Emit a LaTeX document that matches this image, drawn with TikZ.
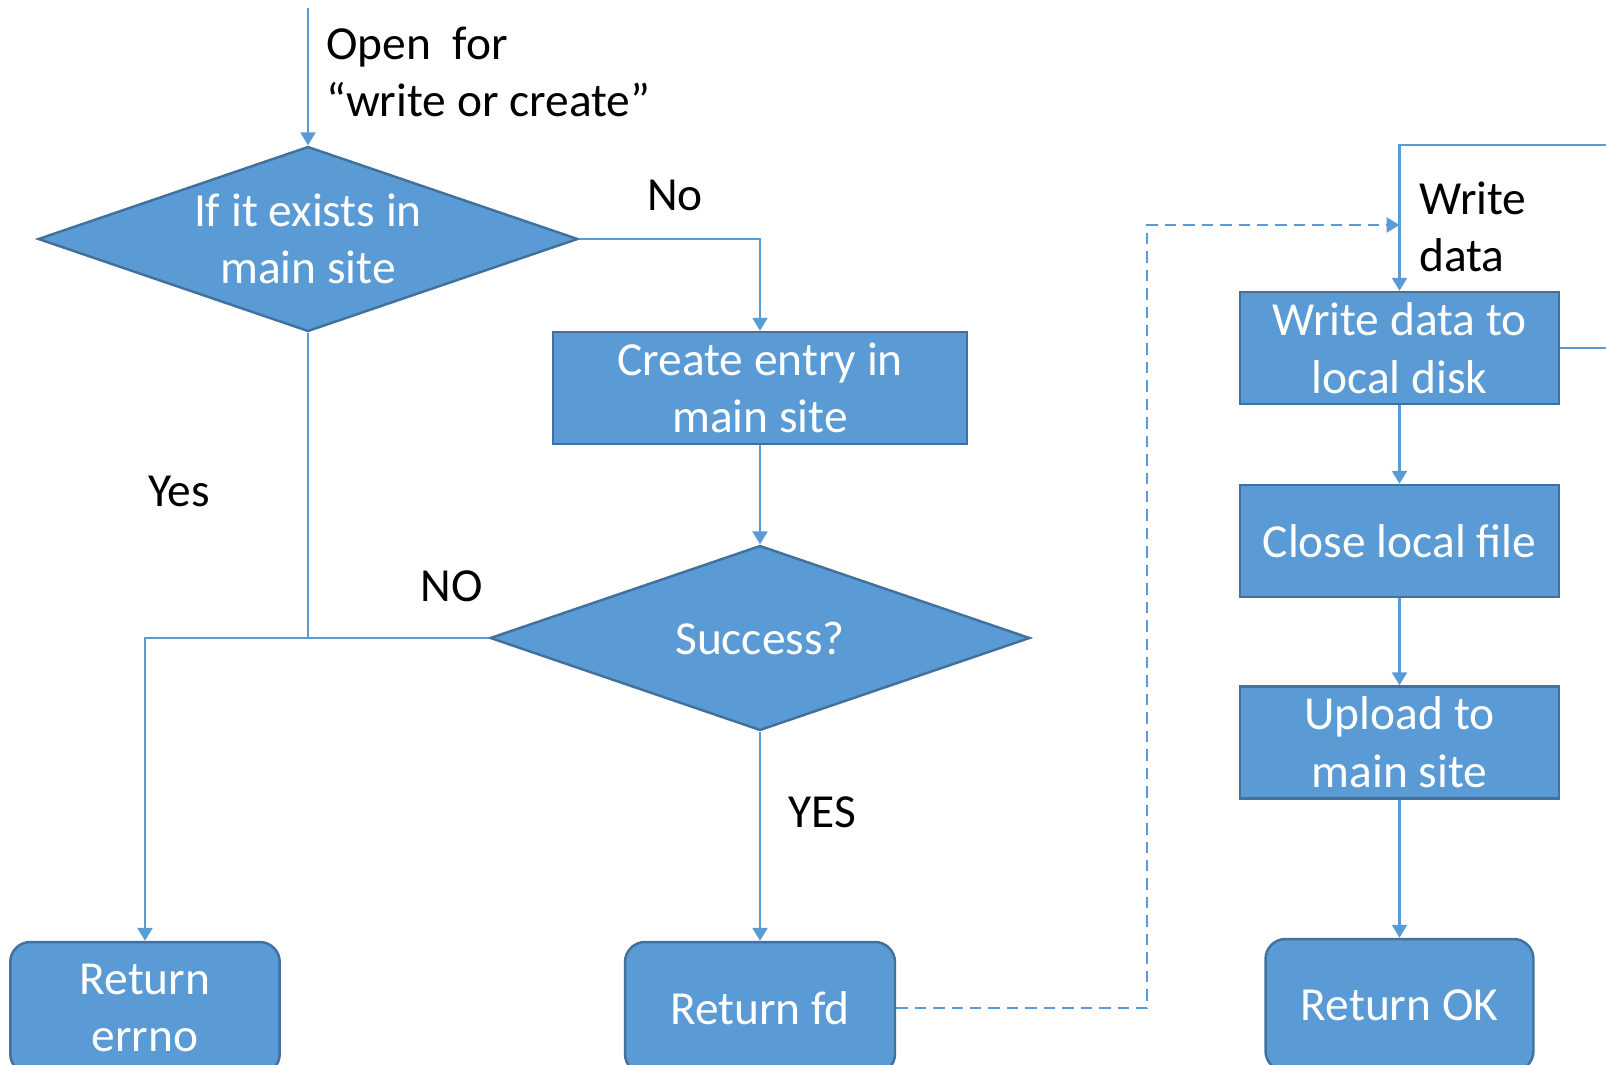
\documentclass[tikz,border=0pt]{standalone}
\usepackage{fontspec}
\setmainfont{Carlito}
\usetikzlibrary{shapes.geometric,arrows.meta}
\definecolor{fillblue}{HTML}{5B9BD5}
\definecolor{edgeblue}{HTML}{41719C}
\begin{document}
\begin{tikzpicture}[x=0.02cm, y=-0.02cm, font=\fontsize{27}{32.8}\selectfont,
  flow/.style={draw=edgeblue, line width=1.4pt, fill=fillblue, text=white, align=center, inner sep=0pt},
  box/.style={flow, rectangle, minimum width=#1, minimum height=2.24cm},
  term/.style={flow, rectangle, rounded corners=0.4cm, minimum width=#1, minimum height=2.64cm},
  decision/.style={flow, diamond, aspect=2.92, minimum width=10.8cm, minimum height=3.7cm},
  link/.style={draw=fillblue, line width=1.4pt, -{Triangle[width=0.3cm, length=0.26cm]}},
  tag/.style={text=black, align=left}]
\useasboundingbox (0,0) rectangle (1606,1065);
\clip (0,0) rectangle (1606,1065);
\node[decision] (dec1) at (308,239) {If it exists in\\main site};
\node[box=8.28cm] (create) at (760,388) {Create entry in\\main site};
\node[decision] (dec2) at (760,638) {Success?};
\node[term=5.39cm] (errno) at (145,1008) {Return\\errno};
\node[term=5.4cm] (fd) at (760,1008) {Return fd};
\node[box=6.38cm] (wdisk) at (1399.5,348) {Write data to\\local disk};
\node[box=6.38cm] (close) at (1399.5,541) {Close local file};
\node[box=6.38cm] (upload) at (1399.5,742.5) {Upload to\\main site};
\node[term=5.36cm] (ok) at (1399.5,1005) {Return OK};
\coordinate (start) at (308,8);
\coordinate (dturn) at (1147,225);
\coordinate (wjoin) at (1399.5,225);
\coordinate (wtop) at (1399.5,145);
\coordinate (loopr) at (1660,145);
\node[tag, anchor=west] (open) at (320,72) {Open\ \ for\\“write or create”};
\node[tag] (no1) at (675,195) {No};
\node[tag] (yes1) at (179,491) {Yes};
\node[tag] (no2) at (452,586) {NO};
\node[tag] (yes2) at (822,812) {YES};
\node[tag, anchor=west] (wlabel) at (1413,227) {Write\\data};
\draw[link] (start) -- (dec1.north);
\draw[link] (dec1.east) -| (create.north);
\draw[link] (create.south) -- (dec2.north);
\draw[link, -] (dec1.south) -- (dec1.south |- dec2.west);
\draw[link] (dec2.west) -| (errno.north);
\draw[link] (dec2.south) -- (fd.north);
\draw[link, dash pattern=on 6.5pt off 4pt] (fd.east) -| (dturn) -- (wjoin);
\draw[link] (wdisk.east) -| (loopr) -- (wtop) -- (wdisk.north);
\draw[link] (wdisk.south) -- (close.north);
\draw[link] (close.south) -- (upload.north);
\draw[link] (upload.south) -- (ok.north);
\end{tikzpicture}
\end{document}
